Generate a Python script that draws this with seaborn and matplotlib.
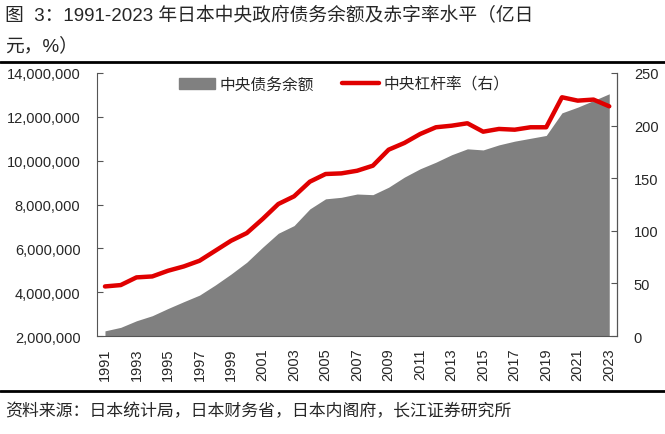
import numpy as np
import matplotlib.pyplot as plt
import matplotlib.ticker as mticker
from matplotlib.patches import Patch
from matplotlib.lines import Line2D
import seaborn as sns

sns.set_style("ticks")
plt.rcParams['font.family'] = ['Liberation Sans', 'Noto Sans CJK SC', 'DejaVu Sans']

# data
years = list(range(1991, 2024))
debt = [2.24e6, 2.40e6, 2.70e6, 2.93e6, 3.26e6, 3.57e6, 3.87e6, 4.33e6, 4.83e6, 5.37e6,
        6.05e6, 6.69e6, 7.04e6, 7.80e6, 8.26e6, 8.33e6, 8.48e6, 8.45e6, 8.79e6, 9.25e6,
        9.63e6, 9.93e6, 10.27e6, 10.54e6, 10.49e6, 10.72e6, 10.89e6, 11.02e6, 11.15e6,
        12.18e6, 12.44e6, 12.74e6, 13.05e6]
leverage = [47.2, 48.5, 55.8, 56.7, 62.1, 66.2, 71.6, 81.1, 90.6, 97.9,
            111.2, 125.5, 132.8, 146.7, 154.0, 154.6, 157.1, 161.9, 177.1, 183.5,
            192.0, 198.4, 199.9, 202.2, 194.2, 196.8, 196.1, 198.4, 198.4,
            226.9, 223.7, 224.7, 218.3]
debt_label = "中央债务余额"
lev_label = "中央杠杆率（右）"

idx = np.arange(len(years))
gray = "#808080"
red = "#E00000"

fig = plt.figure(figsize=(6.65, 4.35), dpi=100)
ax = fig.add_axes([0.146, 0.225, 0.782, 0.605])

ax.fill_between(idx, 2e6, debt, color=gray, linewidth=0)
ax.set_ylim(2e6, 14e6)
ax.set_yticks(np.arange(2e6, 14.1e6, 2e6))
ax.yaxis.set_major_formatter(mticker.FuncFormatter(lambda v, p: f"{int(v):,}"))
ax.set_xlim(-0.5, 32.4)
ax.set_xticks(idx[::2])
ax.set_xticklabels([str(y) for y in years[::2]], rotation=90)
ax.set_xticks(np.arange(-0.5, 32.6, 1), minor=True)
ax.tick_params(axis='x', which='major', length=0, pad=8, labelsize=10.5)
ax.tick_params(axis='x', which='minor', direction='in', length=4, color="#555555")
ax.tick_params(axis='y', direction='in', length=4, color="#555555", labelsize=10.5, pad=12)
for s in ["left", "bottom"]:
    ax.spines[s].set_color("#555555")
ax.spines["top"].set_visible(False)

ax2 = ax.twinx()
sns.lineplot(x=idx, y=leverage, ax=ax2, color=red, linewidth=3.2, legend=False)
ax2.lines[0].set_solid_joinstyle("round")
ax2.lines[0].set_solid_capstyle("round")
ax2.set_ylim(0, 250)
ax2.set_yticks(range(0, 251, 50))
ax2.tick_params(axis='y', direction='in', length=4, color="#555555", labelsize=10.5, pad=12)
ax2.spines["right"].set_color("#555555")
ax2.spines["top"].set_visible(False)
ax2.spines["left"].set_visible(False)
ax2.spines["bottom"].set_visible(False)
ax2.set_ylabel("")

handles = [Patch(color=gray, label=debt_label),
           Line2D([0], [0], color=red, linewidth=3.2, label=lev_label)]
ax2.legend(handles=handles, loc="upper center", bbox_to_anchor=(0.475, 1.04), ncol=2,
           frameon=False, fontsize=11.3, handlelength=2.3, handletextpad=0.3,
           columnspacing=1.8)

fig.text(0.008, 0.963, "图  3：1991-2023 年日本中央政府债务余额及赤字率水平（亿日", fontsize=13.5, va="center")
fig.text(0.008, 0.893, "元，%）", fontsize=13.5, va="center")
fig.add_artist(Line2D([0, 1], [1 - 63 / 435, 1 - 63 / 435], color="black", linewidth=2))
fig.add_artist(Line2D([0, 1], [1 - 392 / 435, 1 - 392 / 435], color="black", linewidth=2))
fig.text(0.008, 1 - 411 / 435, "资料来源：日本统计局，日本财务省，日本内阁府，长江证券研究所", fontsize=12.2, va="center")

fig.savefig("out.png", dpi=100)
